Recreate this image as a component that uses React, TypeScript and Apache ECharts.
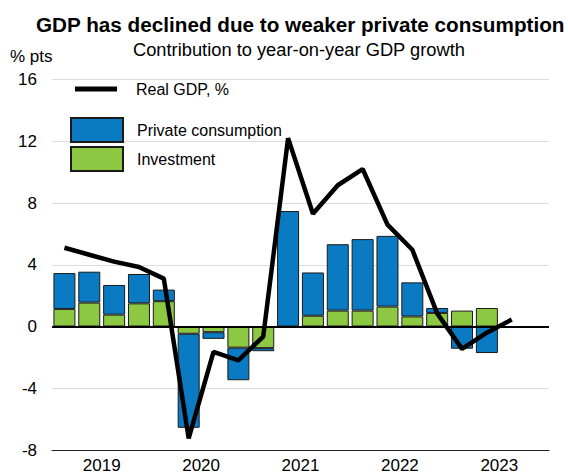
import React, { useEffect, useRef } from "react";
import * as echarts from "echarts";

const quarters = [
  "2019Q1", "2019Q2", "2019Q3", "2019Q4",
  "2020Q1", "2020Q2", "2020Q3", "2020Q4",
  "2021Q1", "2021Q2", "2021Q3", "2021Q4",
  "2022Q1", "2022Q2", "2022Q3", "2022Q4",
  "2023Q1", "2023Q2", "2023Q3", "2023Q4",
];
const years = ["2019", "2020", "2021", "2022", "2023"];
const investment = [
  1.14, 1.55, 0.77, 1.5,
  1.64, -0.47, -0.37, -1.37,
  -1.4, 0, 0.7, 1.03,
  1.03, 1.29, 0.65, 0.88,
  1.03, 1.2, null, null,
];
const privateConsumption = [
  2.32, 2.0, 1.92, 1.9,
  0.75, -6.09, -0.43, -2.11,
  -0.2, 7.48, 2.8, 4.3,
  4.63, 4.58, 2.21, 0.32,
  -1.44, -1.72, null, null,
];
const realGDP = [
  5.1, 4.65, 4.2, 3.85,
  3.1, -7.25, -1.65, -2.2,
  -0.65, 12.2, 7.3, 9.15,
  10.2, 6.6, 4.97, 0.85,
  -1.45, -0.4, 0.45, null,
];
const yTicks = { min: -8, max: 16, interval: 4 };

const FONT = "'Liberation Sans', Arial, sans-serif";

export default function App() {
  const ref = useRef<HTMLDivElement>(null);
  useEffect(() => {
    if (!ref.current) return;
    const chart = echarts.init(ref.current, null, { renderer: "svg" });
    chart.setOption({
      animation: false,
      backgroundColor: "#fff",
      textStyle: { fontFamily: FONT },
      title: [
        {
          text: "GDP has declined due to weaker private consumption",
          left: 36,
          top: 14,
          padding: 0,
          textStyle: { fontSize: 20.7, fontWeight: "bold", color: "#000", fontFamily: FONT },
        },
        {
          text: "Contribution to year-on-year GDP growth",
          left: 133,
          top: 40,
          padding: 0,
          textStyle: { fontSize: 18.3, fontWeight: "normal", color: "#000", fontFamily: FONT },
        },
        {
          text: "% pts",
          left: 10,
          top: 48,
          padding: 0,
          textStyle: { fontSize: 17, fontWeight: "normal", color: "#000", fontFamily: FONT },
        },
      ],
      legend: [
        {
          data: [{ name: "Real GDP, %", icon: "rect" }],
          left: 75,
          top: 81,
          padding: 0,
          itemWidth: 42,
          itemHeight: 5,
          selectedMode: false,
          textStyle: { fontSize: 16, color: "#000", fontFamily: FONT, padding: [0, 0, 0, 14] },
        },
        {
          data: [
            { name: "Private consumption", icon: "rect" },
            { name: "Investment", icon: "rect" },
          ],
          orient: "vertical",
          left: 70,
          top: 117,
          padding: 0,
          itemWidth: 52,
          itemHeight: 24,
          itemGap: 3,
          selectedMode: false,
          textStyle: { fontSize: 16, color: "#000", fontFamily: FONT, padding: [0, 0, 0, 9] },
        },
      ],
      grid: { left: 52, right: 19, top: 79.5, bottom: 22.3, containLabel: false },
      xAxis: [
        {
          type: "category",
          data: quarters,
          position: "bottom",
          boundaryGap: true,
          axisLine: { onZero: false, lineStyle: { color: "#222", width: 1 } },
          axisTick: { inside: true, length: 4.5, interval: 0, lineStyle: { color: "#222" } },
          axisLabel: { show: false },
          splitLine: { show: false },
        },
        {
          type: "category",
          data: years,
          position: "bottom",
          boundaryGap: true,
          axisLine: { onZero: false, show: false },
          axisTick: { inside: true, length: 9, interval: 0, lineStyle: { color: "#222" } },
          axisLabel: { fontSize: 17, color: "#000", margin: 7, fontFamily: FONT },
          splitLine: { show: false },
        },
      ],
      yAxis: {
        type: "value",
        min: yTicks.min,
        max: yTicks.max,
        interval: yTicks.interval,
        axisLine: { show: false },
        axisTick: { show: false },
        axisLabel: { fontSize: 17, color: "#000", margin: 15, fontFamily: FONT },
        splitLine: { lineStyle: { color: "#dcdcdc", width: 1 } },
      },
      series: [
        {
          name: "Investment",
          type: "bar",
          stack: "contrib",
          data: investment,
          barWidth: 22,
          itemStyle: { color: "#8cc841", borderColor: "#1a1a1a", borderWidth: 1 },
          z: 2,
        },
        {
          name: "Private consumption",
          type: "bar",
          stack: "contrib",
          data: privateConsumption,
          barWidth: 22,
          itemStyle: { color: "#0a7bc2", borderColor: "#1a1a1a", borderWidth: 1 },
          z: 2,
          markLine: {
            silent: true,
            symbol: "none",
            label: { show: false },
            lineStyle: { color: "#000", width: 2, type: "solid" },
            data: [{ yAxis: 0 }],
          },
        },
        {
          name: "Real GDP, %",
          type: "line",
          data: realGDP,
          color: "#000",
          showSymbol: false,
          symbol: "none",
          connectNulls: false,
          lineStyle: { color: "#000", width: 4.5 },
          itemStyle: { color: "#000" },
          z: 5,
        },
      ],
    });
    return () => chart.dispose();
  }, []);
  return (
    <div
      ref={ref}
      style={{ position: "absolute", left: 0, top: 0, width: 568, height: 474 }}
    />
  );
}
